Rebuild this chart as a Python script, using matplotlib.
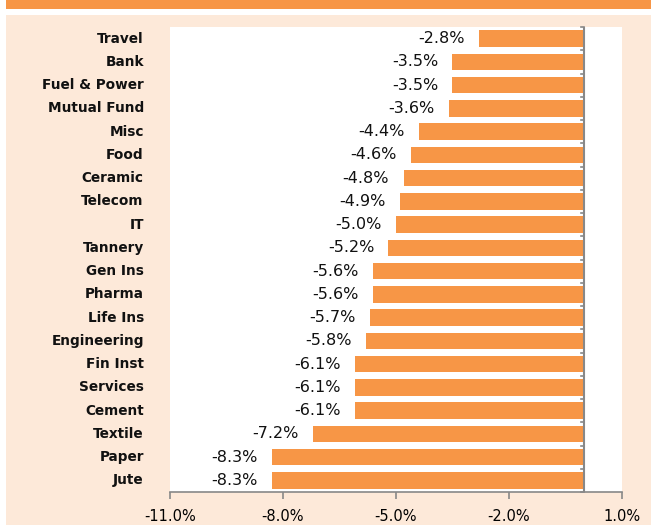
import matplotlib
matplotlib.use("Agg")
import matplotlib.pyplot as plt
from matplotlib.patches import Rectangle

categories = ["Travel", "Bank", "Fuel & Power", "Mutual Fund", "Misc", "Food", "Ceramic",
              "Telecom", "IT", "Tannery", "Gen Ins", "Pharma", "Life Ins", "Engineering",
              "Fin Inst", "Services", "Cement", "Textile", "Paper", "Jute"]
values = [-2.8, -3.5, -3.5, -3.6, -4.4, -4.6, -4.8, -4.9, -5.0, -5.2, -5.6, -5.6, -5.7, -5.8,
          -6.1, -6.1, -6.1, -7.2, -8.3, -8.3]
xticks = [-11, -8, -5, -2, 1]
xticklabels = ["-11.0%", "-8.0%", "-5.0%", "-2.0%", "1.0%"]

ORANGE = "#F79646"
PEACH = "#FDE9D9"

W, H = 651, 525
fig = plt.figure(figsize=(W / 100, H / 100), dpi=100)
fig.patch.set_facecolor("white")
fig.patches.append(Rectangle((6 / W, 1 - 9 / H), 1, 9 / H, transform=fig.transFigure,
                             facecolor=ORANGE, edgecolor="none", zorder=-10))
fig.patches.append(Rectangle((6 / W, 0), 1, 1 - 15 / H, transform=fig.transFigure,
                             facecolor=PEACH, edgecolor="none", zorder=-10))

ax = fig.add_axes([170 / W, 1 - 492 / H, (622 - 170) / W, (492 - 27) / H])
ax.set_zorder(5)
ax.set_facecolor("white")
n = len(categories)
ypos = list(range(n))
ax.barh(ypos, values, height=0.7, color=ORANGE, zorder=2)
ax.set_xlim(-11, 1)
ax.set_ylim(n - 0.5, -0.5)

for y, v in zip(ypos, values):
    ax.text(v - 0.38, y, f"{v:.1f}%", ha="right", va="center", fontsize=11.5, color="#111111",
            family="DejaVu Sans")

for s in ["top", "right", "left"]:
    ax.spines[s].set_visible(False)
ax.spines["bottom"].set_color("#888888")
ax.spines["bottom"].set_linewidth(1.2)
ax.axvline(0, color="#888888", lw=1.5, zorder=3)
# small ticks at category boundaries on zero line
for b in range(n + 1):
    yb = b - 0.5
    ax.plot([-0.08, 0], [yb, yb], color="#888888", lw=1.2, zorder=3, clip_on=False)

ax.set_xticks(xticks)
ax.set_xticklabels(xticklabels, fontsize=10.5)
ax.tick_params(axis="x", length=5, width=1.2, color="#888888", pad=7)
ax.set_yticks([])
for y, c in zip(ypos, categories):
    ax.text(-0.058, y, c, transform=ax.get_yaxis_transform(), ha="right", va="center",
            fontsize=9.8, fontweight="bold", color="#111111")

fig.savefig("out.png", dpi=100)
